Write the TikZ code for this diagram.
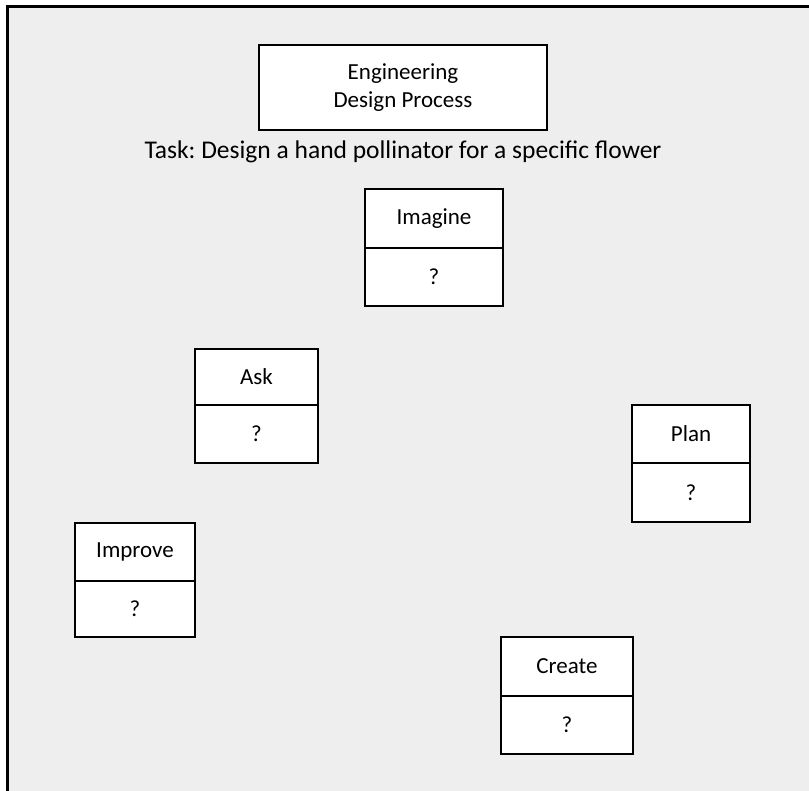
\documentclass[tikz,border=0pt]{standalone}
\usepackage{fontspec}
\setmainfont{Carlito}
\frenchspacing
\definecolor{panelgrey}{HTML}{EEEEEE}
\begin{document}
\begin{tikzpicture}[x=1pt,y=-1pt,
  cell/.style={draw=black,line width=2.5pt,fill=white,inner sep=0pt,outer sep=0pt,font=\fontsize{23}{28}\selectfont},
  tasktext/.style={inner sep=0pt,font=\fontsize{25.5}{30}\selectfont}]
\useasboundingbox (0,0) rectangle (809,791);
\draw [black,line width=3pt,fill=panelgrey] (7,7) rectangle (815,797);
\node [cell,minimum width=288pt,minimum height=85pt,align=center] (title) at (403,87.5) {Engineering\\Design Process};
\node [tasktext] (task) at (403,152) {Task: Design a hand pollinator for a specific flower};
\node [cell,minimum width=138pt,minimum height=59pt] (imagine) at (434,218.5) {Imagine};
\node [cell,minimum width=138pt,minimum height=58pt,anchor=north] (imagineq) at (imagine.south) {?};
\node [cell,minimum width=123pt,minimum height=56pt] (ask) at (256.5,377) {Ask};
\node [cell,minimum width=123pt,minimum height=58pt,anchor=north] (askq) at (ask.south) {?};
\node [cell,minimum width=118pt,minimum height=58pt] (plan) at (691,434) {Plan};
\node [cell,minimum width=118pt,minimum height=59pt,anchor=north] (planq) at (plan.south) {?};
\node [cell,minimum width=120pt,minimum height=58pt] (improve) at (135,552) {Improve};
\node [cell,minimum width=120pt,minimum height=56pt,anchor=north] (improveq) at (improve.south) {?};
\node [cell,minimum width=132pt,minimum height=59pt] (create) at (567,666.5) {Create};
\node [cell,minimum width=132pt,minimum height=58pt,anchor=north] (createq) at (create.south) {?};
\end{tikzpicture}
\end{document}
